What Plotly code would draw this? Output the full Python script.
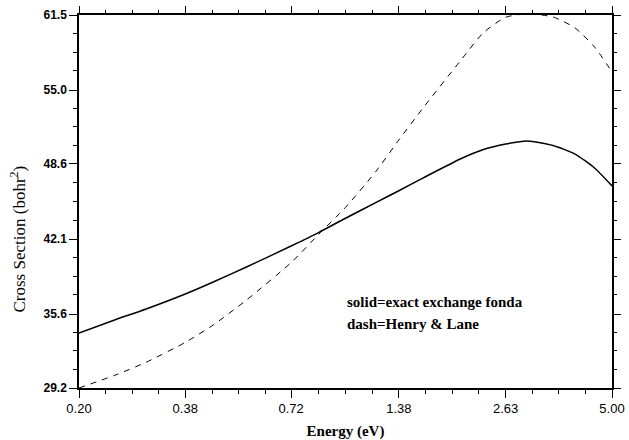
import numpy as np
import plotly.graph_objects as go

energy = [0.2, 0.25, 0.3, 0.38, 0.45, 0.55, 0.72, 0.85, 1.0, 1.2, 1.38, 1.6,
          2.0, 2.3, 2.63, 3.0, 3.5, 4.0, 4.5, 5.0]
solid_exact = [33.96, 35.13, 36.04, 37.34, 38.38, 39.68, 41.50, 42.66, 43.90,
               45.25, 46.28, 47.40, 49.03, 49.85, 50.33, 50.59, 50.20, 49.46,
               48.25, 46.70]
dash_henry_lane = [29.2, 30.34, 31.43, 33.15, 34.66, 36.82, 40.06, 42.5, 44.84,
                   47.93, 50.68, 53.48, 57.52, 59.97, 61.3, 61.6, 61.33, 60.38,
                   58.73, 56.57]

x_ticks = [0.20, 0.38, 0.72, 1.38, 2.63, 5.00]
x_ticklabels = ["0.20", "0.38", "0.72", "1.38", "2.63", "5.00"]
y_ticks = [29.2, 35.6, 42.1, 48.6, 55.0, 61.5]
y_ticklabels = ["29.2", "35.6", "42.1", "48.6", "55.0", "61.5"]

xmin, xmax = 0.2, 5.0
ymin, ymax = 29.2, 61.5

x_minor = [xmin * (xmax / xmin) ** (k / 20) for k in range(21) if k % 4 != 0]
y_minor = [ymin + (ymax - ymin) * k / 20 for k in range(21) if k % 4 != 0]

fig = go.Figure()
fig.add_trace(go.Scatter(x=energy, y=solid_exact, mode="lines",
                         line=dict(color="black", width=1.5, shape="spline", smoothing=0.6),
                         showlegend=False))
fig.add_trace(go.Scatter(x=energy, y=dash_henry_lane, mode="lines",
                         line=dict(color="black", width=1, dash="6px,6px", shape="spline",
                                   smoothing=0.6),
                         showlegend=False))
# invisible trace to carry the mirrored (top/right) tick axes
fig.add_trace(go.Scatter(x=energy, y=solid_exact, xaxis="x2", yaxis="y2", mode="lines",
                         line=dict(width=0, color="rgba(0,0,0,0)"), hoverinfo="skip",
                         showlegend=False))

fig.add_annotation(x=0.499, y=0.2306, xref="paper", yref="paper", xanchor="left",
                   yanchor="middle", showarrow=False,
                   text="solid=exact exchange fonda",
                   font=dict(family="Liberation Serif", size=15, color="black", weight="bold"))
fig.add_annotation(x=0.499, y=0.1716, xref="paper", yref="paper", xanchor="left",
                   yanchor="middle", showarrow=False,
                   text="dash=Henry &amp; Lane",
                   font=dict(family="Liberation Serif", size=15, color="black", weight="bold"))
# y axis title
fig.add_annotation(x=-0.115, y=0.40, xref="paper", yref="paper", xanchor="center",
                   yanchor="middle", showarrow=False, textangle=-90,
                   text="Cross Section (bohr<sup>2</sup>)",
                   font=dict(family="Liberation Serif", size=17, color="black"))

tick_common = dict(ticks="outside", ticklen=8, tickwidth=1.2, tickcolor="black",
                   showgrid=False, zeroline=False, automargin=False)

fig.update_layout(
    xaxis=dict(type="log", range=[np.log10(xmin), np.log10(xmax)],
               tickmode="array", tickvals=x_ticks, ticktext=x_ticklabels,
               showline=True, linecolor="black", linewidth=1.5, mirror=True,
               minor=dict(tickvals=x_minor, ticks="outside", ticklen=4,
                          tickwidth=1.2, tickcolor="black", showgrid=False),
               tickfont=dict(family="Liberation Sans", size=13, color="black"),
               title=dict(text="<b>Energy (eV)</b>", standoff=12,
                          font=dict(family="Liberation Serif", size=15, color="black")),
               **tick_common),
    yaxis=dict(range=[ymin, ymax],
               tickmode="array", tickvals=y_ticks, ticktext=y_ticklabels,
               showline=True, linecolor="black", linewidth=1.5, mirror=True,
               minor=dict(tickvals=y_minor, ticks="outside", ticklen=4,
                          tickwidth=1.2, tickcolor="black", showgrid=False),
               tickfont=dict(family="Liberation Sans", size=12, color="black", weight="bold"),
               **tick_common),
    xaxis2=dict(type="log", range=[np.log10(xmin), np.log10(xmax)], overlaying="x",
                side="top", anchor="y2", tickmode="array", tickvals=x_ticks,
                showticklabels=False, showline=False,
                minor=dict(tickvals=x_minor, ticks="outside", ticklen=4,
                           tickwidth=1.2, tickcolor="black", showgrid=False),
                **tick_common),
    yaxis2=dict(range=[ymin, ymax], overlaying="y", side="right", anchor="x2",
                tickmode="array", tickvals=y_ticks, showticklabels=False, showline=False,
                minor=dict(tickvals=y_minor, ticks="outside", ticklen=4,
                           tickwidth=1.2, tickcolor="black", showgrid=False),
                **tick_common),
    width=629, height=440, plot_bgcolor="white", paper_bgcolor="white",
    margin=dict(l=79, r=17, t=15, b=52, autoexpand=False),
)

fig.write_html("out.html", post_script="document.body.style.margin='0';",
               config={"displayModeBar": False})
